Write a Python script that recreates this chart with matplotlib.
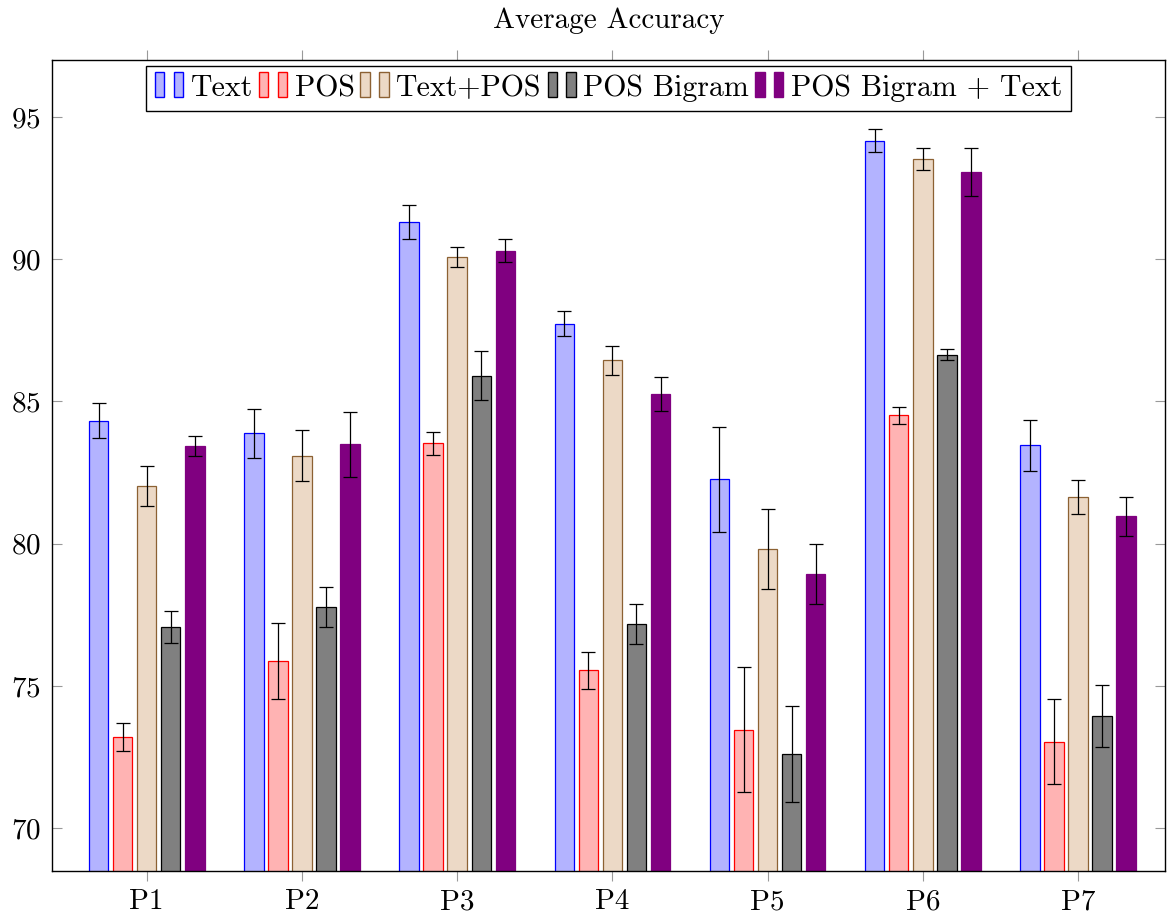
import numpy as np
import matplotlib
matplotlib.use("Agg")
import matplotlib.pyplot as plt
from matplotlib.legend_handler import HandlerBase
from matplotlib.patches import Rectangle

plt.rcParams['font.family'] = 'cmr10'
plt.rcParams['mathtext.fontset'] = 'cm'
plt.rcParams['axes.formatter.use_mathtext'] = True

# data
groups = ["P1", "P2", "P3", "P4", "P5", "P6", "P7"]
series = ["Text", "POS", "Text+POS", "POS Bigram", "POS Bigram + Text"]

text_acc = [84.33, 83.88, 91.32, 87.74, 82.26, 94.16, 83.46]
text_err = [0.6, 0.85, 0.6, 0.45, 1.85, 0.4, 0.9]
pos_acc = [73.21, 75.88, 83.53, 75.56, 73.46, 84.51, 73.04]
pos_err = [0.5, 1.35, 0.4, 0.65, 2.2, 0.3, 1.5]
textpos_acc = [82.02, 83.10, 90.09, 86.44, 79.81, 93.53, 81.63]
textpos_err = [0.7, 0.9, 0.35, 0.5, 1.4, 0.38, 0.6]
bigram_acc = [77.07, 77.77, 85.91, 77.18, 72.61, 86.65, 73.95]
bigram_err = [0.55, 0.7, 0.85, 0.7, 1.7, 0.2, 1.1]
bigramtext_acc = [83.42, 83.49, 90.30, 85.25, 78.93, 93.07, 80.96]
bigramtext_err = [0.35, 1.15, 0.4, 0.6, 1.05, 0.85, 0.7]

values = [text_acc, pos_acc, textpos_acc, bigram_acc, bigramtext_acc]
errors = [text_err, pos_err, textpos_err, bigram_err, bigramtext_err]

faces = [(0.7, 0.7, 1.0), (1.0, 0.7, 0.7), (0.925, 0.85, 0.775), (0.5, 0.5, 0.5), (0.5, 0.0, 0.5)]
edges = ["blue", "red", (0.55, 0.38, 0.2), "black", (0.5, 0.0, 0.5)]


class TwoBarHandler(HandlerBase):
    # pgfplots style legend symbol: two small bars
    def create_artists(self, legend, orig_handle, xdescent, ydescent,
                       width, height, fontsize, trans):
        bw = width * 0.3
        h = height * 1.2
        y0 = -ydescent - height * 0.05
        arts = []
        for x0 in (0, width * 0.6):
            r = Rectangle((x0 - xdescent, y0), bw, h,
                          facecolor=orig_handle.get_facecolor(),
                          edgecolor=orig_handle.get_edgecolor(),
                          linewidth=1.0, transform=trans)
            arts.append(r)
        return arts


fig = plt.figure(figsize=(11.67, 9.22), dpi=100)
ax = fig.add_axes([52 / 1167, 1 - 871 / 922, (1165 - 52) / 1167, (871 - 60) / 922])

x = np.arange(len(groups))
pitch = 0.155
width = 0.125
handles = []
for i in range(len(series)):
    pos = x + (i - 2) * pitch
    bars = ax.bar(pos, values[i], width, bottom=0, color=faces[i],
                  edgecolor=edges[i], linewidth=0.9, label=series[i], zorder=2)
    ax.errorbar(pos, values[i], yerr=errors[i], fmt='none', ecolor='black',
                elinewidth=0.9, capsize=5, capthick=0.9, zorder=3)
    handles.append(bars.patches[0])

ax.set_ylim(68.5, 97.0)
ax.set_xlim(-0.61, 6.56)
ax.set_xticks(x)
ax.set_xticklabels(groups)
ax.set_yticks([70, 75, 80, 85, 90, 95])
ax.tick_params(axis='y', direction='in', left=True, right=True, length=7,
               color='0.6', labelsize=21, pad=8)
ax.tick_params(axis='x', direction='out', bottom=True, top=True, length=7,
               color='0.6', labelsize=21, pad=6)
for s in ax.spines.values():
    s.set_linewidth(1.0)

ax.set_title("Average Accuracy", fontsize=21, pad=23)

leg = ax.legend(handles, series, handler_map={Rectangle: TwoBarHandler()},
                loc='upper center', ncol=5, fontsize=21.5, frameon=True,
                fancybox=False, edgecolor='black', framealpha=1,
                handlelength=1.05, handletextpad=0.15, columnspacing=0.2,
                borderpad=0.3, borderaxespad=0.2)
leg.get_frame().set_linewidth(1.0)

fig.savefig("out.png", dpi=100)
